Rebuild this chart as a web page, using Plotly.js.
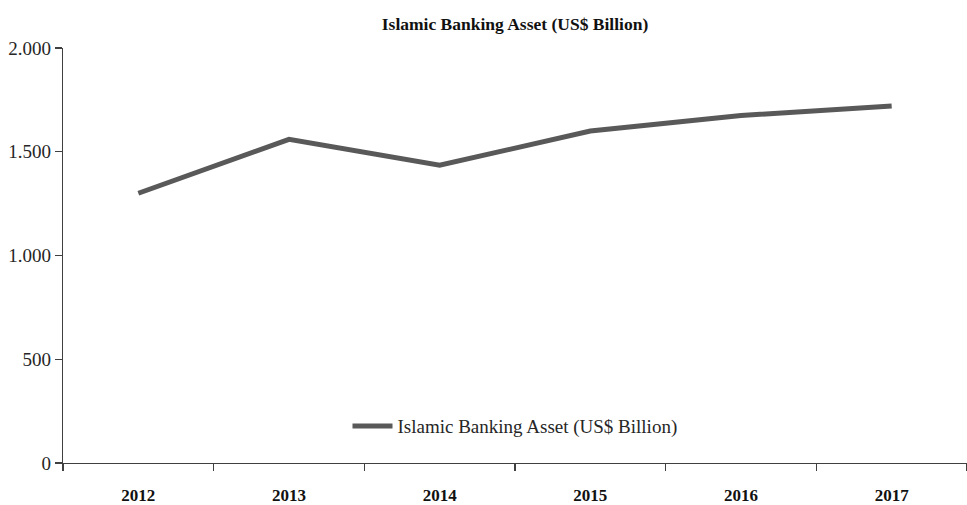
<!DOCTYPE html>
<html>
<head>
<meta charset="utf-8">
<script src="https://cdn.plot.ly/plotly-3.0.1.min.js"></script>
<style>html,body{margin:0;padding:0;background:#fff;}#chart{width:967px;height:505px;}</style>
</head>
<body>
<div id="chart"></div>
<script>
const years = ['2012', '2013', '2014', '2015', '2016', '2017'];
const assets = [1300, 1560, 1435, 1600, 1675, 1720];
const seriesName = 'Islamic Banking Asset (US$ Billion)';
const chartTitle = 'Islamic Banking Asset (US$ Billion)';
const yTicks = [0, 500, 1000, 1500, 2000];

const FONT = 'Liberation Serif, Times New Roman, serif';

const trace = {
  type: 'scatter',
  mode: 'lines',
  x: years,
  y: assets,
  name: seriesName,
  line: {color: '#595959', width: 5, shape: 'linear'},
  hoverinfo: 'x+y'
};

const layout = {
  width: 967,
  height: 505,
  margin: {l: 63, r: 0, t: 48, b: 42, pad: 0},
  paper_bgcolor: '#ffffff',
  plot_bgcolor: '#ffffff',
  separators: ',.',
  font: {family: FONT, size: 18, color: '#262626'},
  title: {
    text: chartTitle,
    font: {family: FONT, size: 17.5, color: '#111111', weight: 'bold'},
    x: 0.5,
    xref: 'paper',
    xanchor: 'center',
    y: 18,
    yref: 'container',
    yanchor: 'middle'
  },
  showlegend: true,
  legend: {
    orientation: 'h',
    x: 0.5,
    xanchor: 'center',
    y: 0.089,
    yanchor: 'middle',
    bgcolor: 'rgba(0,0,0,0)',
    font: {family: FONT, size: 19, color: '#262626'},
    itemwidth: 40
  },
  xaxis: {
    type: 'category',
    range: [-0.5, 5.5],
    showgrid: false,
    zeroline: false,
    showline: true,
    linecolor: '#404040',
    linewidth: 1.3,
    ticks: 'outside',
    tickson: 'boundaries',
    ticklen: 7,
    tickwidth: 1.3,
    tickcolor: '#404040',
    ticklabelstandoff: 16,
    tickfont: {family: FONT, size: 17, color: '#111111', weight: 'bold'},
    fixedrange: true
  },
  yaxis: {
    range: [0, 2000],
    tickvals: yTicks,
    tickformat: ',d',
    showgrid: false,
    zeroline: false,
    showline: true,
    linecolor: '#404040',
    linewidth: 1.3,
    ticks: 'outside',
    ticklen: 7,
    tickwidth: 1.3,
    tickcolor: '#404040',
    tickfont: {family: FONT, size: 19, color: '#262626'},
    fixedrange: true
  }
};

Plotly.newPlot('chart', [trace], layout, {displayModeBar: false, staticPlot: true});
</script>
</body>
</html>
